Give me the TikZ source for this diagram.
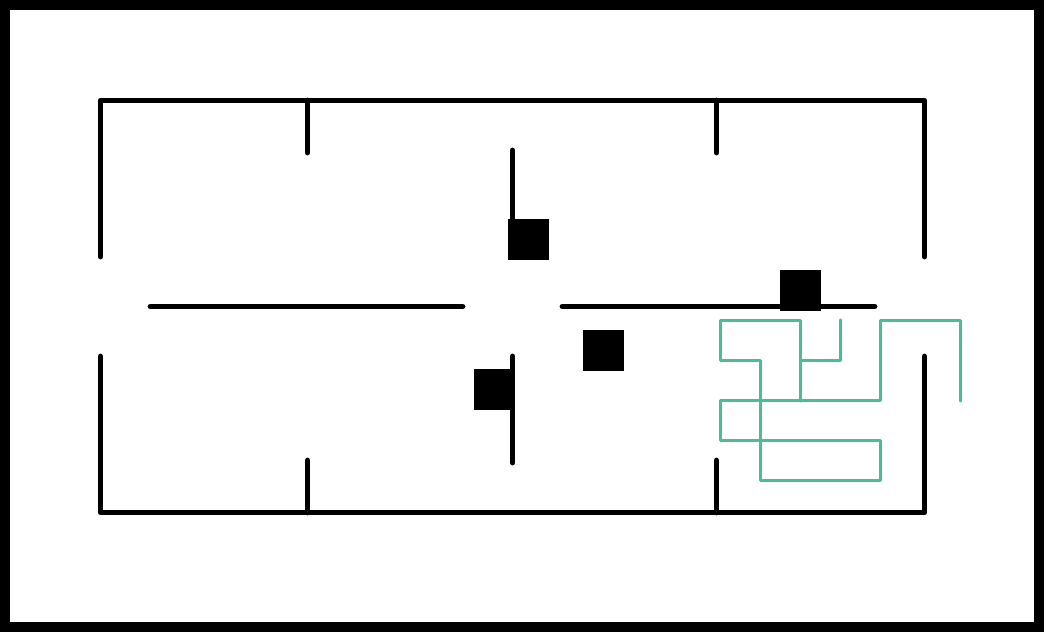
\documentclass[tikz,border=0pt]{standalone}
\tikzset{
	wall/.style={line width=4.4pt, line cap=round, line join=round},
	block/.style={fill=black},
	route/.style={draw=routegreen, line width=2.9pt, line cap=round, line join=round},
}
\definecolor{routegreen}{HTML}{48BF91}

\begin{document}
\begin{tikzpicture}[x=0.75pt, y=-0.75pt]
	\useasboundingbox (0,0) rectangle (1044,632);
	\fill (0,0) rectangle (1044,632);
	\fill [white] (10,10) rectangle (1034,622);

	% outer walls
	\draw [wall] (100.5,256.5) -- (100.5,100.5) -- (924.5,100.5) -- (924.5,256.5);
	\draw [wall] (100.5,356.5) -- (100.5,512.5) -- (924.5,512.5) -- (924.5,356.5);

	% inner walls
	\foreach \x in {307.5,716.5} {
		\draw [wall] (\x,100.5) -- (\x,152.5);
		\draw [wall] (\x,512.5) -- (\x,460.5);
	}
	\draw [wall] (512.5,150.5) -- (512.5,240);
	\draw [wall] (512.5,356.5) -- (512.5,462.5);
	\draw [wall] (150.5,306.5) -- (462.5,306.5);
	\draw [wall] (562.5,306.5) -- (874.5,306.5);

	% obstacles
	\foreach \x/\y in {508/219, 583/330, 474/369, 780/270} {
		\fill [block] (\x,\y) rectangle ++(41,41);
	}

	% path
	\draw [route] (960.5,400.5) -- (960.5,320.5) -- (880.5,320.5) -- (880.5,400.5)
		-- (720.5,400.5) -- (720.5,440.5) -- (880.5,440.5) -- (880.5,480.5)
		-- (760.5,480.5) -- (760.5,360.5) -- (720.5,360.5) -- (720.5,320.5)
		-- (800.5,320.5) -- (800.5,400.5) -- (800.5,360.5) -- (840.5,360.5) -- (840.5,320.5);
\end{tikzpicture}
\end{document}
